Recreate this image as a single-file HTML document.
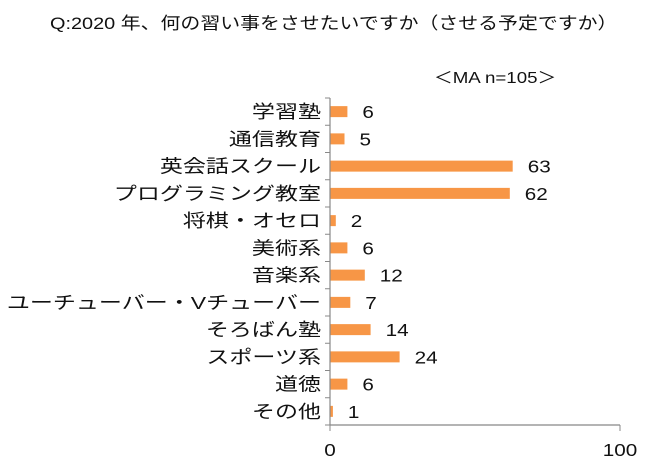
<!DOCTYPE html>
<html><head><meta charset="utf-8"><style>
body{margin:0;background:#fff;}
svg text{font-family:"Liberation Sans","Noto Sans CJK JP",sans-serif;fill:#111;}
</style></head><body>
<svg width="671" height="466" viewBox="0 0 671 466" xmlns="http://www.w3.org/2000/svg">
<text transform="translate(50,29) scale(1.17,1)" x="0" y="0" font-size="17">Q:2020 年、何の習い事をさせたいですか（させる予定ですか）</text>
<text transform="translate(434,83) scale(1.17,1)" x="0" y="0" font-size="16">＜MA n=105＞</text>
<g id="bars"></g>
</svg>
<script>
const categories=["学習塾","通信教育","英会話スクール","プログラミング教室","将棋・オセロ","美術系","音楽系","ユーチューバー・Vチューバー","そろばん塾","スポーツ系","道徳","その他"];
const values=[6,5,63,62,2,6,12,7,14,24,6,1];
const xTicks=[0,100];
const x0=330,x1=620,yTop=98,yBot=425;
const band=(yBot-yTop)/categories.length;
const xs=v=>x0+(x1-x0)*v/100;
const g=document.getElementById('bars');
const NS='http://www.w3.org/2000/svg';
function mk(t,a){const e=document.createElementNS(NS,t);for(const k in a)e.setAttribute(k,a[k]);g.appendChild(e);return e;}
categories.forEach((c,i)=>{
  const cy=yTop+band*(i+0.5);
  const r=mk('rect',{x:x0,y:cy-5.5,width:xs(values[i])-x0,height:11,fill:'#f79646'});
  
  
  const v=mk('text',{x:0,y:0,'font-size':18,transform:'translate('+(xs(values[i])+15)+','+(cy+6.5)+') scale(1.15,1)'});
  v.textContent=values[i];
  
  
  const l=mk('text',{x:0,y:0,'font-size':18,'text-anchor':'end',transform:'translate(321,'+(cy+6.5)+') scale(1.28,1)'});
  l.textContent=c;
  
  
});
for(let i=0;i<=categories.length;i++){
  const y=yTop+band*i;
  const t=mk('line',{x1:x0-5,x2:x0,y1:y,y2:y,stroke:'#888','stroke-width':1});
  
  
}
const ya=mk('line',{x1:x0,x2:x0,y1:yTop,y2:yBot,stroke:'#888','stroke-width':1.2});


const xa=mk('line',{x1:x0,x2:x1,y1:yBot,y2:yBot,stroke:'#888','stroke-width':1.2});


xTicks.forEach(v=>{
  const t=mk('line',{x1:xs(v),x2:xs(v),y1:yBot,y2:yBot+6,stroke:'#888','stroke-width':1});
  
  
  const l=mk('text',{x:0,y:0,'font-size':18,'text-anchor':'middle',transform:'translate('+xs(v)+','+(yBot+31)+') scale(1.15,1)'});
  l.textContent=v;
  
  
});
</script>
</body></html>
